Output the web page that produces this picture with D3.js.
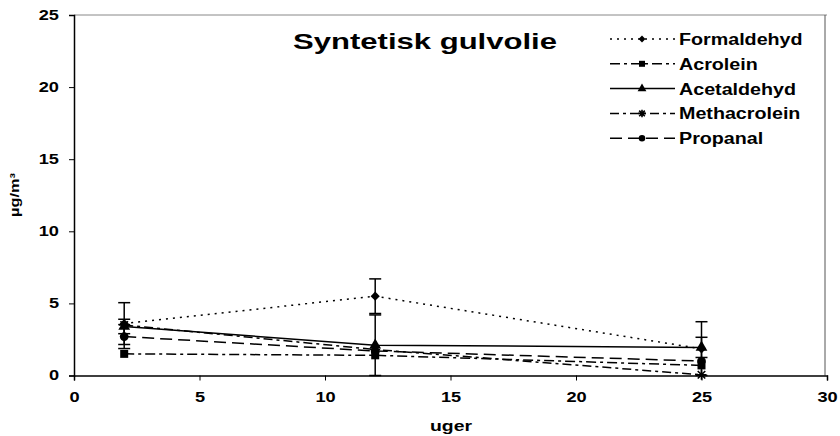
<!DOCTYPE html>
<html lang="da">
<head>
  <meta charset="UTF-8">
  <title>Syntetisk gulvolie</title>
  <script src="https://d3js.org/d3.v7.min.js"></script>
  <style>
    body, html { margin: 0; padding: 0; background: #fff; }
    svg text { font-family: Arial, "Liberation Sans", sans-serif; font-weight: 700; fill: #000; }
    .tick text { font-size: 14px; }
    .legend-text { font-size: 16px; }
  </style>
</head>
<body>
  <svg id="chart" width="840" height="436"></svg>
  <script>
    // weeks (x) and measured concentrations
    const weeks = [2, 12, 25];
    const seriesNames = ["Formaldehyd", "Acrolein", "Acetaldehyd", "Methacrolein", "Propanal"];
    const formaldehyd = [3.6, 5.5, 1.85];
    const acrolein = [1.5, 1.4, 0.7];
    const acetaldehyd = [3.4, 2.1, 1.95];
    const methacrolein = [3.5, 1.8, 0.05];
    const propanal = [2.7, 1.7, 1.0];
    // standard deviations (error bars)
    const formaldehydErr = [1.45, 1.2, 1.88];
    const acroleinErr = [0, 0, 0];
    const acetaldehydErr = [0.5, 2.1, 0.7];
    const methacroleinErr = [0, 0, 0];
    const propanalErr = [0.83, 0, 0];
    const xTicks = [0, 5, 10, 15, 20, 25, 30];
    const yTicks = [0, 5, 10, 15, 20, 25];

    const series = [
      { name: seriesNames[0], values: formaldehyd, err: formaldehydErr, dash: "2,5", marker: "diamond" },
      { name: seriesNames[1], values: acrolein, err: acroleinErr, dash: "10,4,3,4", marker: "square" },
      { name: seriesNames[2], values: acetaldehyd, err: acetaldehydErr, dash: null, marker: "triangle" },
      { name: seriesNames[3], values: methacrolein, err: methacroleinErr, dash: "9,4,3,4", marker: "star" },
      { name: seriesNames[4], values: propanal, err: propanalErr, dash: "12,6", marker: "circle" }
    ];

    const svg = d3.select("#chart");
    const x = d3.scaleLinear().domain([0, 30]).range([74, 827]);
    const y = d3.scaleLinear().domain([0, 25]).range([375.5, 15]);

    // the original text is stretched horizontally, so widen every label a bit
    function stretch(sel, k) {
      sel.each(function () {
        const w = this.getComputedTextLength();
        d3.select(this).attr("textLength", w * k).attr("lengthAdjust", "spacingAndGlyphs");
      });
    }

    // frame (top/right)
    svg.append("line").attr("x1", x(0)).attr("x2", x(30)).attr("y1", y(25)).attr("y2", y(25))
      .attr("stroke", "#888").attr("stroke-width", 1);
    svg.append("line").attr("x1", x(30) - 2).attr("x2", x(30) - 2).attr("y1", y(25)).attr("y2", y(0))
      .attr("stroke", "#555").attr("stroke-width", 1);

    const xAxis = svg.append("g").attr("transform", `translate(0,${y(0)})`)
      .call(d3.axisBottom(x).tickValues(xTicks).tickSize(5).tickPadding(12).tickFormat(d3.format("d")));
    const yAxis = svg.append("g").attr("transform", `translate(${x(0)},0)`)
      .call(d3.axisLeft(y).tickValues(yTicks).tickSize(5).tickPadding(10).tickFormat(d3.format("d")));
    [xAxis, yAxis].forEach(g => {
      g.attr("font-family", null).attr("font-size", null);
      g.select(".domain").attr("stroke", "#000").attr("stroke-width", 1.5);
      g.selectAll(".tick line").attr("stroke", "#000").attr("stroke-width", 1);
      g.selectAll(".tick text").style("font-weight", "bold");
      stretch(g.selectAll(".tick text"), 1.3);
    });

    svg.append("text").attr("x", 451).attr("y", 431).attr("text-anchor", "middle")
      .style("font-size", "14px").style("font-weight", "bold")
      .attr("textLength", 42).attr("lengthAdjust", "spacingAndGlyphs").text("uger");
    svg.append("text").attr("transform", "translate(19,195) rotate(-90)").attr("text-anchor", "middle")
      .style("font-size", "13px").style("font-weight", "bold")
      .attr("textLength", 44).attr("lengthAdjust", "spacingAndGlyphs").text("µg/m³");

    svg.append("text").attr("x", 293).attr("y", 49)
      .style("font-size", "22px").style("font-weight", "bold")
      .attr("textLength", 264).attr("lengthAdjust", "spacingAndGlyphs")
      .text("Syntetisk gulvolie");

    function drawMarker(g, type, cx, cy, k = 1) {
      if (type === "star") {
        const r = 5 * k;
        const p = d3.path();
        p.moveTo(cx - r, cy); p.lineTo(cx + r, cy);
        p.moveTo(cx, cy - r); p.lineTo(cx, cy + r);
        p.moveTo(cx - r * 0.75, cy - r * 0.75); p.lineTo(cx + r * 0.75, cy + r * 0.75);
        p.moveTo(cx - r * 0.75, cy + r * 0.75); p.lineTo(cx + r * 0.75, cy - r * 0.75);
        g.append("path").attr("d", p.toString()).attr("stroke", "#000").attr("stroke-width", 1.6).attr("fill", "none");
        return;
      }
      if (type === "diamond") {
        g.append("path").attr("d", d3.symbol(d3.symbolSquare, 42 * k * k)())
          .attr("transform", `translate(${cx},${cy}) rotate(45)`).attr("fill", "#000");
        return;
      }
      const sym = { square: d3.symbolSquare, triangle: d3.symbolTriangle, circle: d3.symbolCircle }[type];
      const size = { square: 64, triangle: 60, circle: 60 }[type] * k * k;
      g.append("path").attr("d", d3.symbol(sym, size)())
        .attr("transform", `translate(${cx},${cy})`).attr("fill", "#000");
    }

    const line = d3.line().x((d, i) => x(weeks[i])).y(d => y(d));
    const plot = svg.append("g");

    // lines
    series.forEach(s => {
      plot.append("path").datum(s.values).attr("d", line)
        .attr("fill", "none").attr("stroke", "#000").attr("stroke-width", 1.5)
        .attr("stroke-dasharray", s.dash);
    });

    // error bars
    series.forEach(s => {
      s.values.forEach((v, i) => {
        const e = s.err[i];
        if (!e) return;
        const cx = x(weeks[i]);
        const lo = Math.max(0, v - e), hi = v + e;
        plot.append("line").attr("x1", cx).attr("x2", cx).attr("y1", y(lo)).attr("y2", y(hi))
          .attr("stroke", "#000").attr("stroke-width", 1.5);
        [lo, hi].forEach(t => {
          plot.append("line").attr("x1", cx - 6).attr("x2", cx + 6).attr("y1", y(t)).attr("y2", y(t))
            .attr("stroke", "#000").attr("stroke-width", 1.5);
        });
      });
    });

    // markers
    series.forEach(s => {
      s.values.forEach((v, i) => drawMarker(plot, s.marker, x(weeks[i]), y(v)));
    });

    // legend
    const legend = svg.append("g");
    series.forEach((s, i) => {
      const ly = 39 + i * 24.8;
      legend.append("line").attr("x1", 610).attr("x2", 675).attr("y1", ly).attr("y2", ly)
        .attr("stroke", "#000").attr("stroke-width", 1.5).attr("stroke-dasharray", s.dash);
      drawMarker(legend, s.marker, 642, ly, 0.75);
      legend.append("text").attr("class", "legend-text").attr("x", 679).attr("y", ly + 6)
        .style("font-weight", "bold").text(s.name);
    });
    stretch(legend.selectAll("text"), 1.23);
  </script>
</body>
</html>
